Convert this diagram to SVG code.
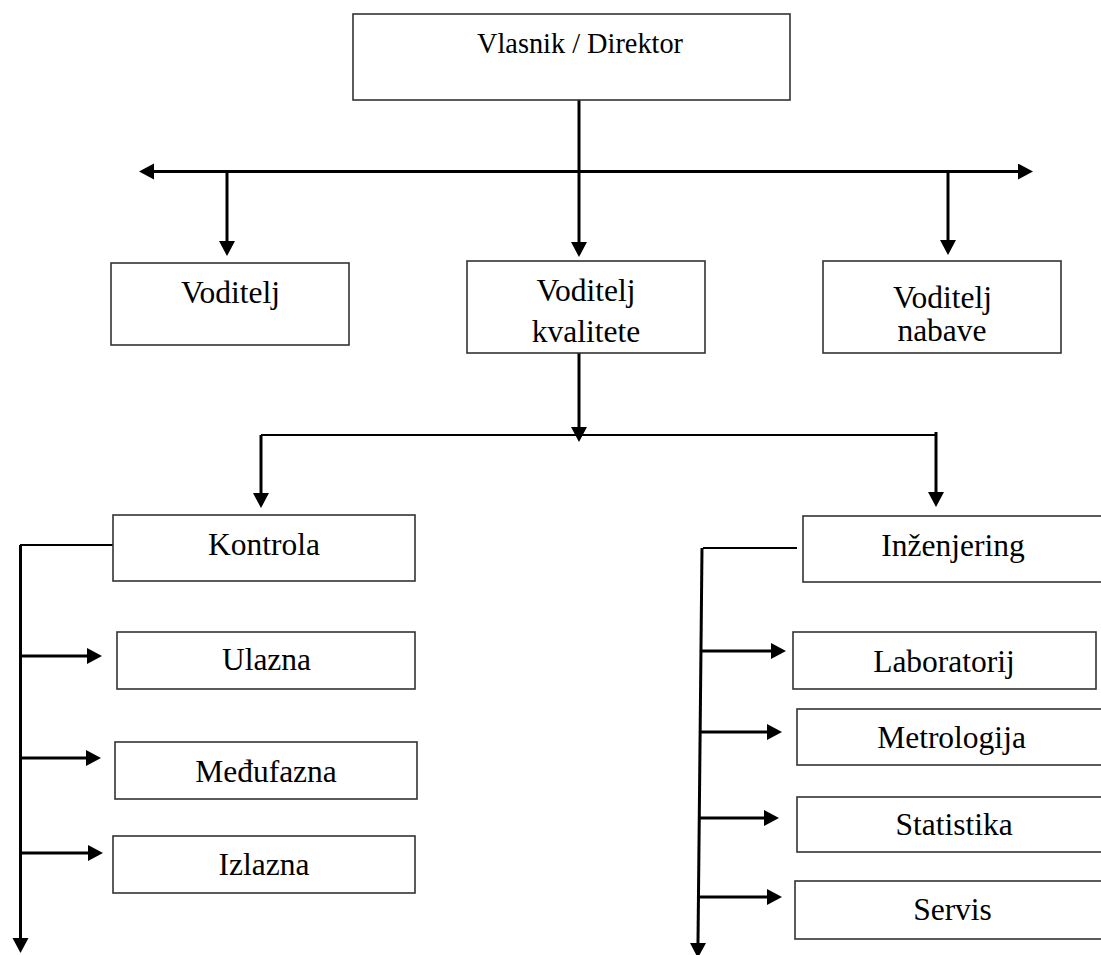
<svg xmlns="http://www.w3.org/2000/svg" width="1101" height="955" viewBox="0 0 1101 955">
  <style>
    .box { fill: #ffffff; stroke: #333333; stroke-width: 1.6; }
    .lbl { font-family: "Liberation Serif", "Times New Roman", serif; font-size: 31.5px; fill: #000000; text-anchor: middle; }
    .wire { fill: none; stroke: #000000; stroke-width: 3; }
    .thin { fill: none; stroke: #000000; stroke-width: 1.8; }
  </style>
  <defs>
    <marker id="ah" markerUnits="userSpaceOnUse" markerWidth="16" markerHeight="17" refX="0" refY="8" orient="auto-start-reverse">
      <path d="M0,0 L15,8 L0,16 Z" fill="#000000"/>
    </marker>
  </defs>
  <rect width="1101" height="955" fill="#ffffff"/>

  <g id="connectors">
    <!-- director to the three managers -->
    <path class="wire" d="M154,171.5 H1018" marker-start="url(#ah)" marker-end="url(#ah)"/>
    <path class="wire" d="M579,100 V242" marker-end="url(#ah)"/>
    <path class="wire" d="M227,171.5 V241" marker-end="url(#ah)"/>
    <path class="wire" d="M948,171.5 V240" marker-end="url(#ah)"/>
    <!-- quality manager to its two departments -->
    <path class="wire" d="M579,353 V427" marker-end="url(#ah)"/>
    <path class="thin" d="M261,435 H936"/>
    <path class="wire" d="M261,435 V493" marker-end="url(#ah)"/>
    <path class="wire" d="M936,432 V492" marker-end="url(#ah)"/>
    <!-- control spine -->
    <path class="thin" d="M20,545 H115"/>
    <path class="wire" d="M20.5,545 V938" marker-end="url(#ah)"/>
    <path class="wire" d="M20.5,656 H87" marker-end="url(#ah)"/>
    <path class="wire" d="M20.5,758 H86" marker-end="url(#ah)"/>
    <path class="wire" d="M20.5,853 H88" marker-end="url(#ah)"/>
    <!-- engineering spine -->
    <path class="thin" d="M703,548 H797"/>
    <path class="wire" d="M702,548 L698,943" marker-end="url(#ah)"/>
    <path class="wire" d="M702,651 H771" marker-end="url(#ah)"/>
    <path class="wire" d="M701,732 H767" marker-end="url(#ah)"/>
    <path class="wire" d="M700,818 H764" marker-end="url(#ah)"/>
    <path class="wire" d="M699,897 H767" marker-end="url(#ah)"/>
  </g>

  <g id="node-direktor">
    <rect class="box" x="353" y="14" width="437" height="86"/>
    <text class="lbl" x="580" y="53" style="font-size:29px" textLength="206" lengthAdjust="spacingAndGlyphs">Vlasnik / Direktor</text>
  </g>
  <g id="node-voditelj">
    <rect class="box" x="111" y="263" width="238" height="82"/>
    <text class="lbl" x="230.5" y="303">Voditelj</text>
  </g>
  <g id="node-kvalitete">
    <rect class="box" x="467" y="261" width="238" height="92"/>
    <text class="lbl" x="586" y="301">Voditelj</text>
    <text class="lbl" x="586" y="342">kvalitete</text>
  </g>
  <g id="node-nabave">
    <rect class="box" x="823" y="261" width="238" height="92"/>
    <text class="lbl" x="942.5" y="308">Voditelj</text>
    <text class="lbl" x="942" y="341">nabave</text>
  </g>
  <g id="node-kontrola">
    <rect class="box" x="113" y="515" width="302" height="66"/>
    <text class="lbl" x="264" y="555">Kontrola</text>
  </g>
  <g id="node-ulazna">
    <rect class="box" x="117" y="632" width="298" height="57"/>
    <text class="lbl" x="266.5" y="670">Ulazna</text>
  </g>
  <g id="node-medufazna">
    <rect class="box" x="115" y="742" width="302" height="57"/>
    <text class="lbl" x="266" y="782">Međufazna</text>
  </g>
  <g id="node-izlazna">
    <rect class="box" x="113" y="836" width="302" height="57"/>
    <text class="lbl" x="264" y="875">Izlazna</text>
  </g>
  <g id="node-inzenjering">
    <rect class="box" x="803" y="516" width="310" height="66"/>
    <text class="lbl" x="953" y="556">Inženjering</text>
  </g>
  <g id="node-laboratorij">
    <rect class="box" x="793" y="632" width="303" height="57"/>
    <text class="lbl" x="944" y="672">Laboratorij</text>
  </g>
  <g id="node-metrologija">
    <rect class="box" x="797" y="709" width="315" height="56"/>
    <text class="lbl" x="951.5" y="748">Metrologija</text>
  </g>
  <g id="node-statistika">
    <rect class="box" x="797" y="797" width="315" height="55"/>
    <text class="lbl" x="954" y="835">Statistika</text>
  </g>
  <g id="node-servis">
    <rect class="box" x="795" y="881" width="317" height="58"/>
    <text class="lbl" x="952.5" y="920">Servis</text>
  </g>
</svg>
